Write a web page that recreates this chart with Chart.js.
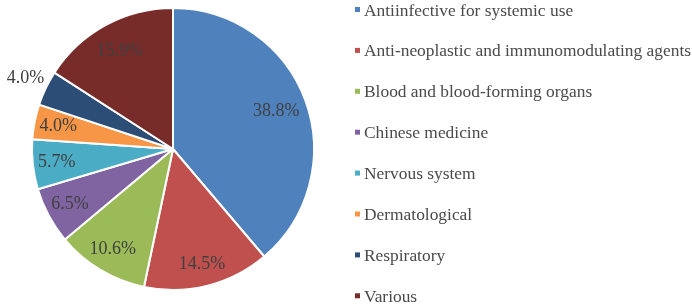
<!DOCTYPE html>
<html>
<head>
<meta charset="utf-8">
<script src="https://cdn.jsdelivr.net/npm/chart.js@4"></script>
<style>
  html, body { margin: 0; padding: 0; background: #fff; }
  #wrap { width: 692px; height: 304px; }
</style>
</head>
<body>
<div id="wrap"><canvas id="pie"></canvas></div>
<script>
// categories and shares (%)
const categories = [
    'Antiinfective for systemic use',
    'Anti-neoplastic and immunomodulating agents',
    'Blood and blood-forming organs',
    'Chinese medicine',
    'Nervous system',
    'Dermatological',
    'Respiratory',
    'Various'
];
const shares = [38.8, 14.5, 10.6, 6.5, 5.7, 4.0, 4.0, 15.9];
const sliceColors = ['#4F81BD', '#C0504D', '#9BBB59', '#8064A2', '#4BACC6', '#F79646', '#2C4D75', '#772C2A'];

// labels on slices, placed along each arc's mid angle
const sliceLabels = {
    id: 'sliceLabels',
    afterDatasetsDraw(chart, args, opts) {
        const ctx = chart.ctx;
        const meta = chart.getDatasetMeta(0);
        ctx.save();
        ctx.font = '18px "Liberation Serif", "Times New Roman", serif';
        ctx.fillStyle = '#404040';
        ctx.textAlign = 'center';
        ctx.textBaseline = 'middle';
        meta.data.forEach((arc, i) => {
            const p = arc.getProps(['x', 'y', 'startAngle', 'endAngle', 'outerRadius'], true);
            const mid = (p.startAngle + p.endAngle) / 2;
            const r = p.outerRadius * opts.radial[i];
            ctx.fillText(shares[i].toFixed(1) + '%', p.x + Math.cos(mid) * r, p.y + Math.sin(mid) * r);
        });
        ctx.restore();
    }
};

// legend on the right, one row per category
const sideLegend = {
    id: 'sideLegend',
    afterDraw(chart, args, opts) {
        const ctx = chart.ctx;
        ctx.save();
        ctx.font = '17.4px "Liberation Serif", "Times New Roman", serif';
        ctx.textBaseline = 'middle';
        categories.forEach((c, i) => {
            const y = opts.top + i * opts.step;
            ctx.fillStyle = sliceColors[i];
            ctx.fillRect(opts.x, y - 3, 5, 5);
            ctx.fillStyle = '#4a4a4a';
            ctx.fillText(c, opts.x + 9, y + 1);
        });
        ctx.restore();
    }
};

new Chart(document.getElementById('pie'), {
    type: 'pie',
    data: {
        labels: categories,
        datasets: [{
            data: shares,
            backgroundColor: sliceColors,
            borderColor: '#fff',
            borderWidth: 2
        }]
    },
    options: {
        responsive: true,
        maintainAspectRatio: false,
        animation: false,
        layout: { padding: { left: 31, right: 377, top: 6, bottom: 12 } },
        plugins: {
            legend: { display: false },
            tooltip: { enabled: false },
            sliceLabels: { radial: [0.78, 0.84, 0.83, 0.83, 0.83, 0.83, 1.16, 0.79] },
            sideLegend: { x: 355, top: 10, step: 40.9 }
        }
    },
    plugins: [sliceLabels, sideLegend]
});
</script>
</body>
</html>
